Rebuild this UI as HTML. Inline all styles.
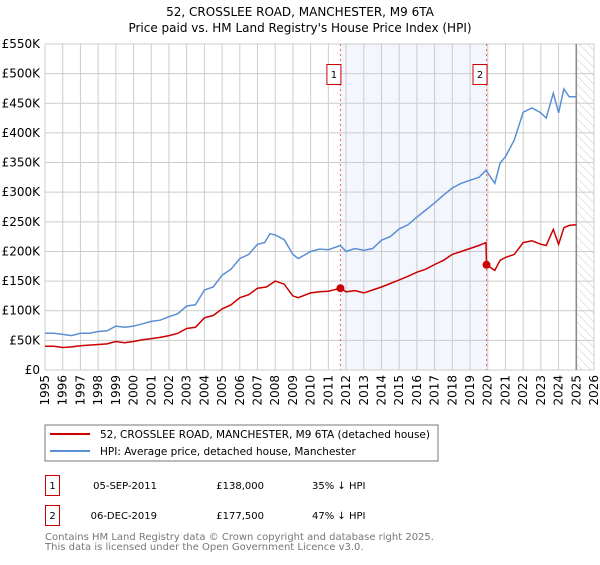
<!DOCTYPE html>
<html><head><meta charset="utf-8"><style>
body{margin:0;background:#fff;font-family:"Liberation Sans","DejaVu Sans",sans-serif;}
svg text{font-family:"DejaVu Sans","Liberation Sans",sans-serif;}
</style></head><body>
<svg width="600" height="560" xmlns="http://www.w3.org/2000/svg" id="chart">
<defs><pattern id="hatch" width="6" height="6" patternUnits="userSpaceOnUse" patternTransform="rotate(-45)"><line x1="0" y1="0" x2="0" y2="6" stroke="#ccc" stroke-width="1"/></pattern></defs>
<text x="300" y="16" text-anchor="middle" font-size="12" fill="#000">52, CROSSLEE ROAD, MANCHESTER, M9 6TA</text>
<text x="300" y="32" text-anchor="middle" font-size="12" fill="#000">Price paid vs. HM Land Registry's House Price Index (HPI)</text>
<g id="plot"></g>
<rect x="45" y="425" width="393" height="36" fill="#fff" stroke="#777"/>
<line x1="50" y1="434" x2="90" y2="434" stroke="#cc0000" stroke-width="2"/>
<text x="100" y="438" font-size="10.5">52, CROSSLEE ROAD, MANCHESTER, M9 6TA (detached house)</text>
<line x1="50" y1="451" x2="90" y2="451" stroke="#5b8fd4" stroke-width="2"/>
<text x="100" y="455" font-size="10.5">HPI: Average price, detached house, Manchester</text>
<g>
<rect x="45.5" y="475.5" width="14" height="20" fill="#fff" stroke="#cc0000"/><text x="52.5" y="489" text-anchor="middle" font-size="10">1</text>
<text x="157" y="489" text-anchor="end" font-size="10">05-SEP-2011</text>
<text x="264" y="489" text-anchor="end" font-size="10">£138,000</text>
<text x="312" y="489" font-size="10">35% ↓ HPI</text></g>
<g>
<rect x="45.5" y="505.5" width="14" height="20" fill="#fff" stroke="#cc0000"/><text x="52.5" y="519" text-anchor="middle" font-size="10">2</text>
<text x="157" y="519" text-anchor="end" font-size="10">06-DEC-2019</text>
<text x="264" y="519" text-anchor="end" font-size="10">£177,500</text>
<text x="312" y="519" font-size="10">47% ↓ HPI</text></g>
<text x="45" y="540" font-size="10" fill="#777">Contains HM Land Registry data © Crown copyright and database right 2025.</text>
<text x="45" y="550" font-size="10" fill="#777">This data is licensed under the Open Government Licence v3.0.</text>
</svg>
<script>
const hpiYears=[1995,1995.5,1996,1996.5,1997,1997.5,1998,1998.5,1999,1999.5,2000,2000.5,2001,2001.5,2002,2002.5,2003,2003.5,2004,2004.5,2005,2005.5,2006,2006.5,2007,2007.4,2007.7,2008,2008.5,2009,2009.3,2010,2010.5,2011,2011.68,2012,2012.5,2013,2013.5,2014,2014.5,2015,2015.5,2016,2016.5,2017,2017.5,2018,2018.5,2019,2019.5,2019.9,2020.4,2020.7,2021,2021.5,2022,2022.5,2023,2023.3,2023.7,2024,2024.3,2024.6,2025];
const hpiValues=[62,62,60,58,62,62,65,66,74,72,74,78,82,84,90,95,108,110,135,140,160,170,188,195,212,215,230,228,220,195,188,200,204,203,210,200,205,202,205,219,225,238,245,258,270,282,295,307,315,320,325,337,315,349,360,388,435,442,434,425,467,434,474,461,461];
const propYears=[1995,1995.5,1996,1996.5,1997,1997.5,1998,1998.5,1999,1999.5,2000,2000.5,2001,2001.5,2002,2002.5,2003,2003.5,2004,2004.5,2005,2005.5,2006,2006.5,2007,2007.5,2008,2008.5,2009,2009.3,2010,2010.5,2011,2011.68,2012,2012.5,2013,2013.5,2014,2014.5,2015,2015.5,2016,2016.5,2017,2017.5,2018,2018.5,2019,2019.5,2019.9,2019.93,2020.4,2020.7,2021,2021.5,2022,2022.5,2023,2023.3,2023.7,2024,2024.3,2024.6,2025];
const propValues=[40,40,38,39,41,42,43,44,48,46,48,51,53,55,58,62,70,72,88,92,103,110,122,127,138,140,150,145,125,122,130,132,133,138,132,134,130,135,140,146,152,158,165,170,178,185,195,200,205,210,215,177.5,168,185,190,195,215,218,212,210,237,212,240,244,245];
const saleYears=[2011.68,2019.93];
const saleValues=[138,177.5];
const yTicks=[0,50,100,150,200,250,300,350,400,450,500,550];
const xTicks=[1995,1996,1997,1998,1999,2000,2001,2002,2003,2004,2005,2006,2007,2008,2009,2010,2011,2012,2013,2014,2015,2016,2017,2018,2019,2020,2021,2022,2023,2024,2025,2026];
const NS="http://www.w3.org/2000/svg";
const x0=45,x1=594,y0=370,y1=44;
const X=v=>x0+(v-1995)/31*(x1-x0);
const Y=v=>y0-v/550*(y0-y1);
const g=document.getElementById('plot');
function mk(t,a){const e=document.createElementNS(NS,t);for(const k in a)e.setAttribute(k,a[k]);g.appendChild(e);return e;}
const bg=mk('rect',{x:x0,y:y1,width:x1-x0,height:y0-y1,fill:'#fff'});


const sh=mk('rect',{x:X(saleYears[0]),y:y1,width:X(saleYears[1])-X(saleYears[0]),height:y0-y1,fill:'#eef2fc',opacity:0.7});


const ht=mk('rect',{x:X(2025),y:y1,width:x1-X(2025),height:y0-y1,fill:'url(#hatch)'});


yTicks.forEach(t=>{
 const l=mk('line',{x1:x0,x2:x1,y1:Y(t),y2:Y(t),stroke:'#ccc','stroke-width':1});
 
 
 const tx=mk('text',{x:40,y:Y(t)+4,'text-anchor':'end','font-size':12});
 tx.textContent=t===0?'£0':'£'+t+'K';
 
 
});
xTicks.forEach(t=>{
 const l=mk('line',{x1:X(t),x2:X(t),y1:y1,y2:y0,stroke:'#ccc','stroke-width':1});
 
 
 const tx=mk('text',{x:0,y:0,'font-size':12,'text-anchor':'end',transform:`translate(${X(t)+4},375) rotate(-90)`});
 tx.textContent=t;
 
 
});
const vl=mk('line',{x1:X(2025),x2:X(2025),y1:y1,y2:y0,stroke:'#888','stroke-width':1.5});


saleYears.forEach((s,i)=>{
 const l=mk('line',{x1:X(s),x2:X(s),y1:y1,y2:y0,stroke:'#f06060','stroke-width':1,'stroke-dasharray':'2,3'});
 
 
 const r=mk('rect',{x:X(s)-13.5,y:64.5,width:14,height:20,fill:'#fff',stroke:'#cc0000'});
 
 
 const t=mk('text',{x:X(s)-6.5,y:78,'text-anchor':'middle','font-size':10});
 t.textContent=String(i+1);
 
 
});
const pts=(xs,ys)=>xs.map((v,i)=>X(v).toFixed(1)+','+Y(ys[i]).toFixed(1)).join(' ');
const hp=mk('polyline',{points:pts(hpiYears,hpiValues),fill:'none',stroke:'#5b8fd4','stroke-width':1.5});


const pp=mk('polyline',{points:pts(propYears,propValues),fill:'none',stroke:'#cc0000','stroke-width':1.5});


saleYears.forEach((s,i)=>{
 const c=mk('circle',{cx:X(s),cy:Y(saleValues[i]),r:4,fill:'#cc0000'});
 
 
});
</script>
</body></html>
